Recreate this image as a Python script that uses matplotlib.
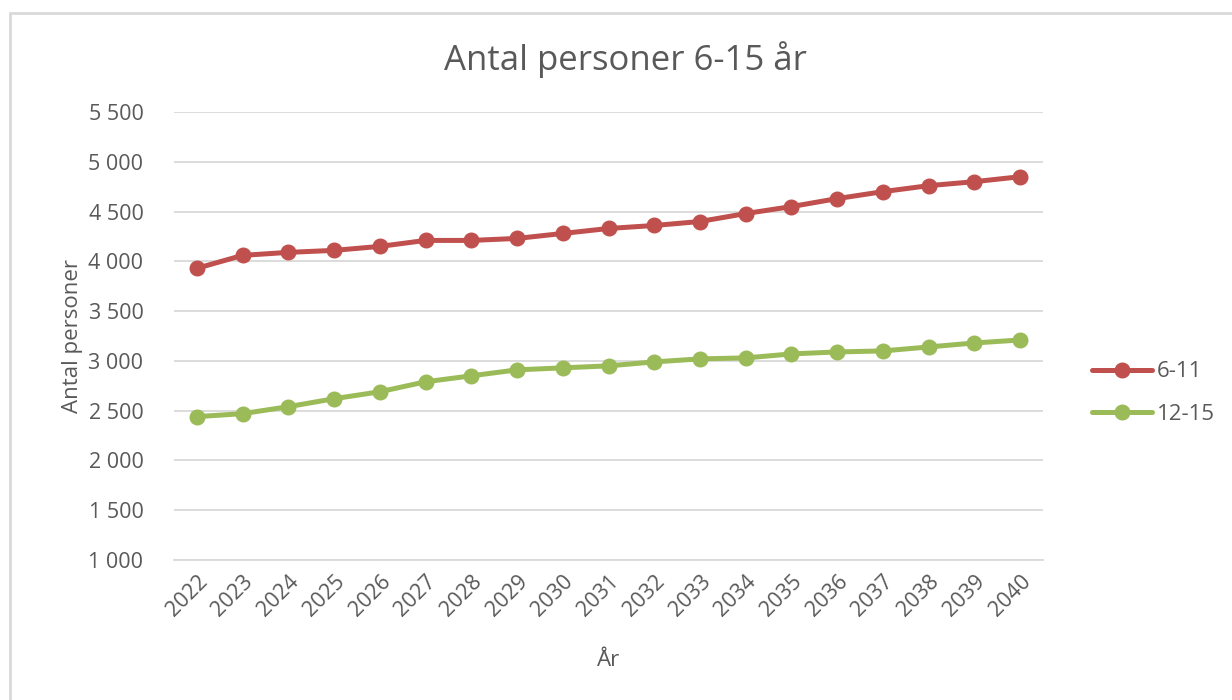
import matplotlib
matplotlib.use("Agg")
import matplotlib.pyplot as plt
from matplotlib.ticker import FuncFormatter
from matplotlib.patches import Rectangle

years = [str(y) for y in range(2022, 2041)]
s_6_11 = [3930, 4060, 4090, 4110, 4150, 4210, 4210, 4230, 4280, 4330,
          4360, 4400, 4480, 4550, 4630, 4700, 4760, 4800, 4850]
s_12_15 = [2440, 2470, 2540, 2620, 2690, 2790, 2850, 2910, 2930, 2950,
           2990, 3020, 3030, 3070, 3090, 3100, 3140, 3180, 3210]
yticks = [1000, 1500, 2000, 2500, 3000, 3500, 4000, 4500, 5000, 5500]

plt.rcParams['font.family'] = ['Open Sans', 'DejaVu Sans']
txt = '#595959'

fig = plt.figure(figsize=(12.32, 7.0), dpi=100)
fig.patches.append(Rectangle((10/1232, -0.1), 1.2, 1 - 13/700 + 0.1,
                             transform=fig.transFigure, fill=False,
                             edgecolor='#D9D9D9', linewidth=2))
ax = fig.add_axes([174/1232, 1 - 560/700, (1043 - 174)/1232, 448/700])

x = list(range(len(years)))
ax.plot(x, s_6_11, color='#C0504D', lw=3.6, marker='o', ms=10.5, label='6-11',
        solid_capstyle='round')
ax.plot(x, s_12_15, color='#9BBB59', lw=3.6, marker='o', ms=10.5, label='12-15',
        solid_capstyle='round')

ax.set_xlim(-0.5, len(years) - 0.5)
ax.set_ylim(1000, 5500)
ax.set_yticks(yticks)
ax.yaxis.set_major_formatter(FuncFormatter(lambda v, p: f"{int(v):,}".replace(',', ' ')))
ax.set_xticks(x)
ax.set_xticklabels(years, rotation=45, ha='right', rotation_mode='anchor')
ax.grid(axis='y', color='#D9D9D9', lw=1.3)
ax.set_axisbelow(True)
for s in ['top', 'right', 'left']:
    ax.spines[s].set_visible(False)
ax.spines['bottom'].set_color('#D9D9D9')
ax.spines['bottom'].set_linewidth(1.3)
ax.tick_params(axis='both', length=0, colors=txt, labelsize=15.5)
ax.tick_params(axis='y', pad=22)
ax.tick_params(axis='x', pad=8)

ax.set_ylabel('Antal personer', color=txt, fontsize=16, labelpad=4)
ax.set_xlabel('År', color=txt, fontsize=16, labelpad=21)
fig.text(625/1232, 1 - 60/700, 'Antal personer 6-15 år', ha='center', va='center',
         color=txt, fontsize=25)

leg = ax.legend(loc='center left', bbox_to_anchor=(1072/1232, 1 - 393/700),
                bbox_transform=fig.transFigure, frameon=False, fontsize=16,
                handlelength=2.7, labelspacing=0.95, handletextpad=0.2)
for t in leg.get_texts():
    t.set_color(txt)

fig.savefig('out.png', dpi=100)
